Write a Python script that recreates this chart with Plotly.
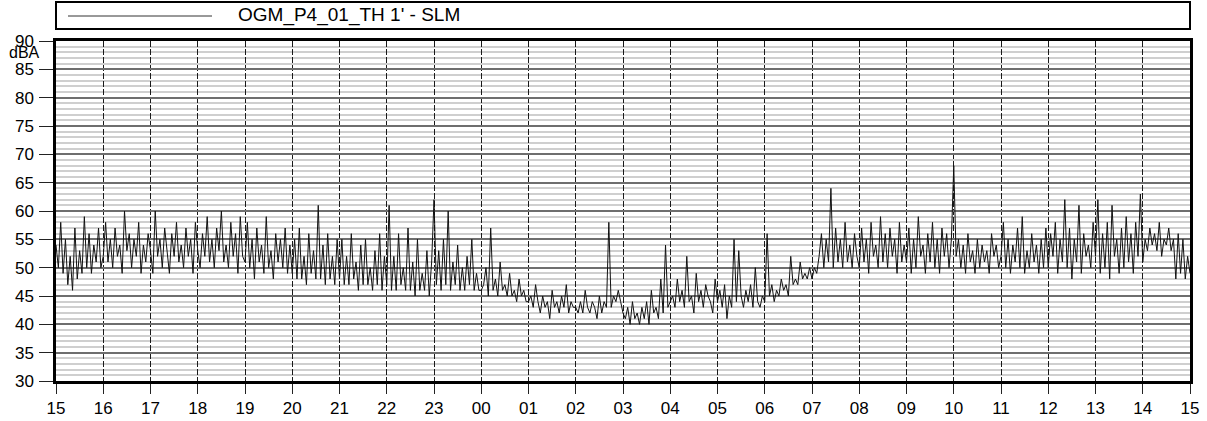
import pandas as pd
import plotly.graph_objects as go

# 3-minute samples of LAeq (dBA), 15:00 -> 15:00 next day, one row per hour
h15 = [54,50,58,49,55,47,52,46,57,48,53,49,59,50,56,49,54,51,57,50]
h16 = [52,58,51,55,50,57,52,54,49,60,53,56,50,55,52,58,49,54,51,56]
h17 = [53,49,60,52,55,50,57,53,49,56,52,58,51,54,50,57,52,55,49,58]
h18 = [53,50,56,52,59,51,55,50,57,53,60,51,54,50,58,52,56,49,59,52]
h19 = [51,58,50,55,48,57,51,54,49,59,50,53,48,56,51,55,50,57,49,54]
h20 = [49,55,48,57,48,52,47,56,49,53,48,61,48,54,47,56,48,52,47,55]
h21 = [48,55,47,52,47,56,48,51,46,54,47,55,47,50,46,53,47,56,46,52]
h22 = [47,61,46,52,46,56,47,50,46,57,46,51,45,55,46,49,46,53,45,51]
h23 = [62,47,53,46,55,47,60,46,51,47,54,46,50,46,52,47,55,46,49,46]
h00 = [46,47,50,45,57,46,48,45,51,46,47,45,49,45,46,44,48,45,46,44]
h01 = [44,45,43,47,44,42,45,43,44,41,46,43,44,42,45,43,47,42,44,43]
h02 = [43,42,44,42,46,43,42,44,43,41,45,42,44,43,58,43,45,44,46,44]
h03 = [42,41,43,40,44,41,42,40,43,41,44,40,46,42,43,41,48,42,54,43]
h04 = [44,45,43,48,44,46,43,52,44,45,42,49,44,46,43,47,45,44,42,48]
h05 = [44,46,43,47,41,45,43,55,44,53,45,43,46,44,47,43,50,44,43,45]
h06 = [44,56,45,47,44,46,45,48,46,47,45,52,47,48,47,51,48,49,48,50]
h07 = [48,50,49,52,56,50,55,51,64,50,57,51,55,50,58,51,54,50,56,52]
h08 = [50,57,51,55,49,58,52,54,50,59,51,56,50,57,52,55,49,58,51,54]
h09 = [51,57,49,55,50,59,52,54,49,56,51,58,50,55,49,57,52,56,50,55]
h10 = [68,52,55,50,54,49,56,51,53,49,55,50,54,51,53,49,56,52,54,50]
h11 = [52,58,50,55,49,54,51,57,50,59,49,53,50,56,51,54,49,55,50,57]
h12 = [50,56,52,58,49,55,51,62,50,57,48,55,51,61,49,56,52,54,50,58]
h13 = [52,62,49,56,50,58,48,61,52,55,49,57,50,59,51,56,49,58,52,63]
h14 = [51,55,53,57,54,56,53,58,52,55,54,57,53,55,48,56,49,55,48,52]
end_value = [49]

series_name = "OGM_P4_01_TH 1' - SLM"
y_unit = "dBA"
start_time = "2020-01-01 15:00"
end_time = "2020-01-02 15:00"

values = (h15 + h16 + h17 + h18 + h19 + h20 + h21 + h22 + h23 + h00 + h01 + h02
          + h03 + h04 + h05 + h06 + h07 + h08 + h09 + h10 + h11 + h12 + h13 + h14
          + end_value)
times = pd.date_range(start_time, periods=len(values), freq="3min")

FONT = "Liberation Sans, Arial, sans-serif"
L, R, T, B = 56, 1190, 41, 381
PW, PH = R - L, B - T

fig = go.Figure()
fig.add_trace(go.Scatter(x=times, y=values, mode="lines",
                         line=dict(color="#111111", width=1),
                         name=series_name, showlegend=False))

fig.update_layout(
    width=1207, height=421,
    margin=dict(l=L, r=1207 - R, t=T, b=421 - B, autoexpand=False),
    paper_bgcolor="white", plot_bgcolor="white",
    font=dict(family=FONT, size=17, color="black"),
    xaxis=dict(
        range=[start_time, end_time], type="date",
        tick0=start_time, dtick=3600000, tickformat="%H",
        showgrid=True, gridcolor="#1a1a1a", gridwidth=1, griddash="6px,2px",
        ticks="outside", ticklen=10, tickcolor="#222222", tickwidth=1.2,
        showline=True, linecolor="black", linewidth=2.5, mirror=True,
        zeroline=False, tickfont=dict(size=17),
    ),
    yaxis=dict(
        range=[30, 90], tick0=30, dtick=5,
        showgrid=True, gridcolor="#6e6e6e", gridwidth=1.5,
        minor=dict(dtick=1, showgrid=True, gridcolor="#cfcfcf", gridwidth=1.5),
        ticks="outside", ticklen=14, tickcolor="#222222", tickwidth=1.2,
        ticklabelstandoff=2,
        showline=True, linecolor="black", linewidth=2.5, mirror=True,
        zeroline=False, tickfont=dict(size=17),
    ),
    shapes=[
        dict(type="rect", xref="paper", yref="paper", x0=0, x1=1,
             y0=(B - 29) / PH, y1=(B - 2) / PH,
             line=dict(color="black", width=2), fillcolor="white"),
        dict(type="line", xref="paper", yref="paper",
             x0=(68 - L) / PW, x1=(212 - L) / PW,
             y0=(B - 16) / PH, y1=(B - 16) / PH,
             line=dict(color="#333333", width=1)),
    ],
    annotations=[
        dict(text=y_unit, xref="paper", yref="paper",
             x=(42 - L) / PW, y=(B - 52) / PH,
             xanchor="right", yanchor="middle", showarrow=False,
             font=dict(size=16, color="black")),
        dict(text=series_name, xref="paper", yref="paper",
             x=(236 - L) / PW, y=(B - 15) / PH,
             xanchor="left", yanchor="middle", showarrow=False,
             font=dict(size=19, color="black")),
    ],
)

fig.write_html("out.html", config={"displayModeBar": False},
               post_script="document.body.style.margin='0';")
